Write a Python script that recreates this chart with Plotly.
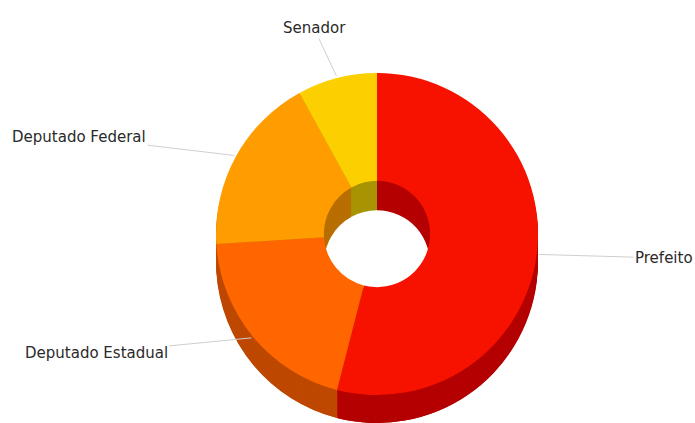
import math
import plotly.graph_objects as go

# ---- data ----
labels = ["Prefeito", "Deputado Estadual", "Deputado Federal", "Senador"]
values = [54, 20, 18, 8]

# ---- style ----
top_colors = ["#F71200", "#FF6600", "#FF9D00", "#FCD000"]
side_colors = ["#B40000", "#BE4800", "#B86E00", "#A89400"]

W, H = 695, 423
cx, cy, R = 377, 234, 161      # face center / radius in px
depth, steps = 30, 15
hole = 0.33

def dom(shift):
    return dict(
        x=[(cx - R) / W, (cx + R) / W],
        y=[max(0.0, 1 - (cy + shift + R) / H), 1 - (cy + shift - R) / H],
    )

fig = go.Figure()
for k in range(steps, 0, -1):
    s = depth * k / steps
    fig.add_trace(go.Pie(
        labels=labels, values=values, sort=False, direction="clockwise",
        rotation=0, hole=hole, domain=dom(s), textinfo="none",
        marker=dict(colors=side_colors, line=dict(width=0)),
        hoverinfo="skip", showlegend=False,
    ))
fig.add_trace(go.Pie(
    labels=labels, values=values, sort=False, direction="clockwise",
    rotation=0, hole=hole, domain=dom(0), textinfo="none",
    marker=dict(colors=top_colors, line=dict(width=0)),
    showlegend=False,
))

# label text positions (px, text centre)
label_pos = [(664, 258), (96, 353), (79, 137), (314, 28)]

total = sum(values)
cum = 0
annotations = []
for lab, v, (tx, ty) in zip(labels, values, label_pos):
    mid = (cum + v / 2) / total * 2 * math.pi
    cum += v
    hx = cx + (R + 2) * math.sin(mid)
    hy = cy - (R + 2) * math.cos(mid)
    annotations.append(dict(
        x=hx / W, y=1 - hy / H, xref="paper", yref="paper",
        text=lab, showarrow=True, arrowhead=0, arrowwidth=1,
        arrowcolor="#cfcfcf", ax=tx - hx, ay=ty - hy,
        font=dict(family="DejaVu Sans", size=15, color="#2a2a2a"),
    ))

fig.update_layout(
    width=W, height=H, autosize=False,
    margin=dict(l=0, r=0, t=0, b=0),
    paper_bgcolor="white", plot_bgcolor="white",
    annotations=annotations,
)
fig.write_html("out.html", config={"displayModeBar": False},
               post_script="document.body.style.margin='0';")
